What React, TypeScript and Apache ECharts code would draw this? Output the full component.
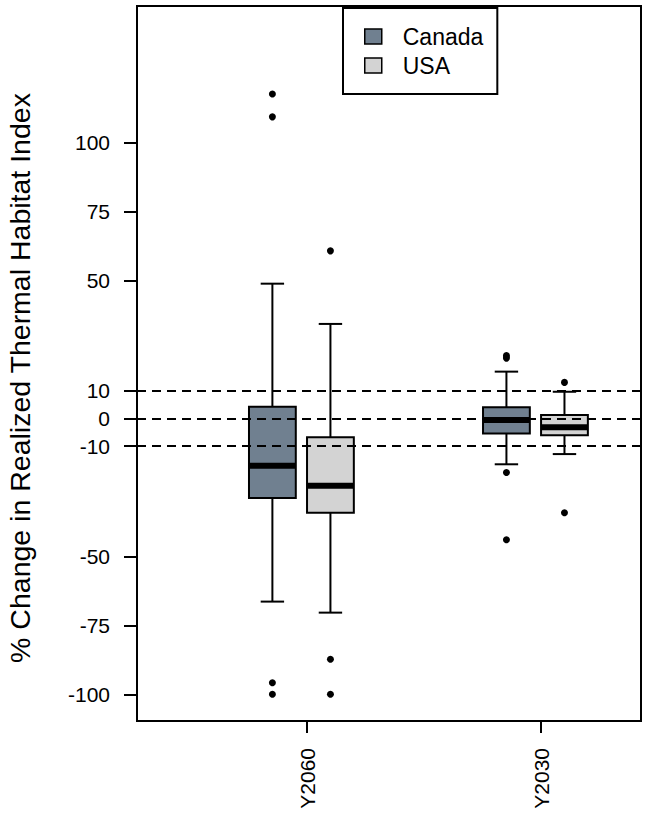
import React, { useEffect, useRef } from "react";
import * as echarts from "echarts";

// ---- data ----
const groups = ["Y2060", "Y2030"];
const groupPos = [1, 2];
const seriesNames = ["Canada", "USA"];
// [lower whisker, Q1, median, Q3, upper whisker]
const canadaStats = [
  [-66.4, -28.8, -17.1, 4.3, 48.9],
  [-16.6, -5.4, -0.5, 4.1, 17.0],
];
const usaStats = [
  [-70.4, -34.2, -24.4, -6.8, 34.3],
  [-12.9, -6.1, -3.2, 1.3, 9.7],
];
const canadaOutliers = [
  [117.7, 109.4, -95.8, -100],
  [22.8, 21.9, -19.6, -44],
];
const usaOutliers = [
  [60.8, -87.3, -100],
  [13.1, -34.2],
];
const yTicks = [100, 75, 50, 10, 0, -10, -50, -75, -100];
const refLines = [10, 0, -10];

// ---- layout / style ----
const FONT = "'Liberation Sans', Arial, sans-serif";
const canadaOffset = -0.148;
const usaOffset = 0.1;
const boxWidth = 0.2;
const canadaColor = "#708090";
const usaColor = "#D3D3D3";

function boxData(stats: number[][], offset: number) {
  return stats.map((s, i) => [groupPos[i] + offset, ...s]);
}
function outlierData(outs: number[][], offset: number) {
  const res: number[][] = [];
  outs.forEach((arr, i) => arr.forEach((v) => res.push([groupPos[i] + offset, v])));
  return res;
}

function renderBox(fill: string) {
  return (params: any, api: any) => {
    const x = api.value(0);
    const low = api.coord([x, api.value(1)]);
    const q1 = api.coord([x, api.value(2)]);
    const med = api.coord([x, api.value(3)]);
    const q3 = api.coord([x, api.value(4)]);
    const high = api.coord([x, api.value(5)]);
    const w = api.size([boxWidth, 0])[0];
    const cx = low[0];
    const hw = w / 2;
    const cap = w / 4;
    const stroke = { stroke: "#000", lineWidth: 2 };
    return {
      type: "group",
      children: [
        { type: "line", shape: { x1: cx, y1: q3[1], x2: cx, y2: high[1] }, style: stroke },
        { type: "line", shape: { x1: cx - cap, y1: high[1], x2: cx + cap, y2: high[1] }, style: stroke },
        { type: "line", shape: { x1: cx, y1: q1[1], x2: cx, y2: low[1] }, style: stroke },
        { type: "line", shape: { x1: cx - cap, y1: low[1], x2: cx + cap, y2: low[1] }, style: stroke },
        {
          type: "rect",
          shape: { x: cx - hw, y: q3[1], width: w, height: q1[1] - q3[1] },
          style: { fill, stroke: "#000", lineWidth: 2 },
        },
        { type: "line", shape: { x1: cx - hw, y1: med[1], x2: cx + hw, y2: med[1] }, style: { stroke: "#000", lineWidth: 6 } },
      ],
    };
  };
}

export default function App() {
  const ref = useRef<HTMLDivElement>(null);
  useEffect(() => {
    if (!ref.current) return;
    const chart = echarts.init(ref.current, undefined, { renderer: "svg" });
    const option: any = {
      animation: false,
      backgroundColor: "#fff",
      textStyle: { fontFamily: FONT },
      grid: {
        left: 137,
        top: 6,
        right: 7,
        bottom: 96,
        show: true,
        borderColor: "#000",
        borderWidth: 2,
        backgroundColor: "transparent",
        outerBoundsMode: "none",
      },
      legend: {
        orient: "vertical",
        left: 343,
        top: 8,
        padding: [17, 14, 17, 21],
        borderColor: "#000",
        borderWidth: 2,
        backgroundColor: "#fff",
        itemWidth: 17,
        itemHeight: 15,
        itemGap: 6,
        icon: "rect",
        selectedMode: false,
        textStyle: { fontFamily: FONT, fontSize: 23, color: "#000", lineHeight: 23, padding: [0, 0, 0, 16] },
        data: [
          { name: seriesNames[0], itemStyle: { color: canadaColor, borderColor: "#000", borderWidth: 1.5 } },
          { name: seriesNames[1], itemStyle: { color: usaColor, borderColor: "#000", borderWidth: 1.5 } },
        ],
        z: 10,
      },
      xAxis: {
        type: "value",
        min: 0.2735,
        max: 2.427,
        splitLine: { show: false },
        axisLine: { show: true, onZero: false, lineStyle: { color: "#000", width: 2 } },
        axisTick: { show: true, customValues: groupPos, length: 12, lineStyle: { color: "#000", width: 2 } },
        axisLabel: {
          show: true,
          customValues: groupPos,
          rotate: 90,
          margin: 27,
          fontSize: 21,
          color: "#000",
          fontFamily: FONT,
          formatter: (v: number) => groups[groupPos.indexOf(v)] ?? "",
        },
      },
      yAxis: {
        type: "value",
        min: -109.7,
        max: 149.6,
        splitLine: { show: false },
        axisLine: { show: true, onZero: false, lineStyle: { color: "#000", width: 2 } },
        axisTick: { show: true, customValues: yTicks, length: 13, lineStyle: { color: "#000", width: 2 } },
        axisLabel: {
          show: true,
          customValues: yTicks,
          margin: 27,
          fontSize: 21,
          color: "#000",
          fontFamily: FONT,
        },
      },
      graphic: [
        {
          type: "text",
          x: 20,
          y: 378,
          rotation: Math.PI / 2,
          style: {
            text: "% Change in Realized Thermal Habitat Index",
            fontSize: 28.5,
            fontFamily: FONT,
            fill: "#000",
            textAlign: "center",
            textVerticalAlign: "middle",
          },
        },
      ],
      series: [
        {
          name: seriesNames[0],
          type: "custom",
          z: 2,
          itemStyle: { color: canadaColor },
          renderItem: renderBox(canadaColor),
          encode: { x: 0, y: [1, 2, 3, 4, 5] },
          data: boxData(canadaStats, canadaOffset),
        },
        {
          name: "ref",
          type: "scatter",
          z: 3,
          data: [],
          silent: true,
          markLine: {
            silent: true,
            symbol: ["none", "none"],
            label: { show: false },
            lineStyle: { color: "#000", type: [9, 6], width: 2 },
            data: refLines.map((v) => ({ yAxis: v })),
          },
        },
        {
          name: seriesNames[1],
          type: "custom",
          z: 4,
          itemStyle: { color: usaColor },
          renderItem: renderBox(usaColor),
          encode: { x: 0, y: [1, 2, 3, 4, 5] },
          data: boxData(usaStats, usaOffset),
        },
        {
          name: "Canada outliers",
          type: "scatter",
          z: 5,
          symbolSize: 7,
          itemStyle: { color: "#000", opacity: 1 },
          data: outlierData(canadaOutliers, canadaOffset),
        },
        {
          name: "USA outliers",
          type: "scatter",
          z: 5,
          symbolSize: 7,
          itemStyle: { color: "#000", opacity: 1 },
          data: outlierData(usaOutliers, usaOffset),
        },
      ],
    };
    chart.setOption(option);
    return () => chart.dispose();
  }, []);
  return (
    <div
      ref={ref}
      style={{ position: "fixed", left: 0, top: 0, width: 648, height: 817, background: "#fff" }}
    />
  );
}
